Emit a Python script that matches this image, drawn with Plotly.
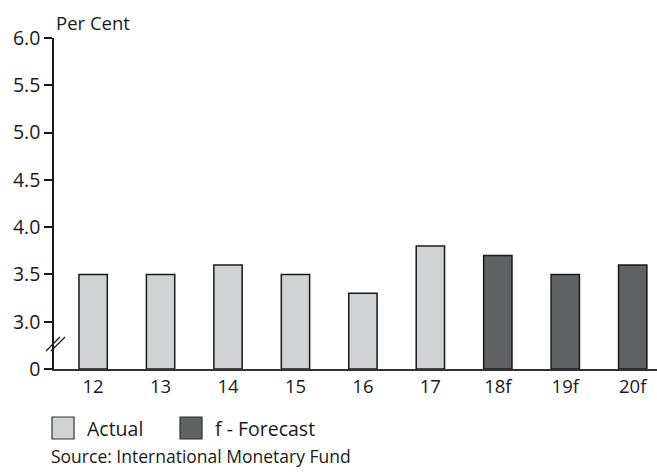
import plotly.graph_objects as go

# Annual growth, per cent
years_actual = ["12", "13", "14", "15", "16", "17"]
values_actual = [3.5, 3.5, 3.6, 3.5, 3.3, 3.8]
years_forecast = ["18f", "19f", "20f"]
values_forecast = [3.7, 3.5, 3.6]

all_years = years_actual + years_forecast
tick_vals = [2.5, 3.0, 3.5, 4.0, 4.5, 5.0, 5.5, 6.0]
tick_text = ["0", "3.0", "3.5", "4.0", "4.5", "5.0", "5.5", "6.0"]

LIGHT = "#d1d2d4"
DARK = "#606163"
EDGE = "#1a1a1a"
FONT = "Open Sans"
AXIS_FLOOR = 2.5  # broken axis: the "0" baseline sits just below 3.0

fig = go.Figure()
fig.add_trace(go.Bar(
    x=years_actual, y=[v - AXIS_FLOOR for v in values_actual], base=AXIS_FLOOR,
    name="Actual", width=0.42,
    marker=dict(color=LIGHT, line=dict(color=EDGE, width=1.5)),
    hovertext=[str(v) for v in values_actual], showlegend=False,
))
fig.add_trace(go.Bar(
    x=years_forecast, y=[v - AXIS_FLOOR for v in values_forecast], base=AXIS_FLOOR,
    name="f - Forecast", width=0.42,
    marker=dict(color=DARK, line=dict(color=EDGE, width=1.5)),
    hovertext=[str(v) for v in values_forecast], showlegend=False,
))

fig.update_layout(
    width=657, height=472,
    margin=dict(l=54, r=0, t=38, b=103),
    paper_bgcolor="white", plot_bgcolor="white",
    barmode="overlay",
    font=dict(family=FONT, color="#1a1a1a", size=18),
    xaxis=dict(
        type="category", categoryorder="array", categoryarray=all_years,
        range=[-0.58, 8.36],
        showline=True, linecolor="#333333", linewidth=1.5,
        ticks="", showgrid=False, zeroline=False,
        tickfont=dict(size=18.5),
    ),
    yaxis=dict(
        range=[AXIS_FLOOR, 6.0],
        tickvals=tick_vals, ticktext=tick_text,
        showline=True, linecolor="#1a1a1a", linewidth=1.5,
        ticks="outside", ticklen=8, tickwidth=1.5, tickcolor="#1a1a1a",
        showgrid=False, zeroline=False,
        tickfont=dict(size=19.5),
    ),
)

# axis-break marks
for dx in (0, 5):
    fig.add_shape(type="line", xref="paper", yref="paper",
                  x0=(46 + dx - 54) / 603, y0=(369 - 351) / 331,
                  x1=(60 + dx - 54) / 603, y1=(369 - 337) / 331,
                  line=dict(color="#1a1a1a", width=1.2))

# axis title
fig.add_annotation(text="Per Cent", xref="paper", yref="paper",
                   x=0.0, y=1.0, xanchor="left", yanchor="bottom",
                   yshift=1, showarrow=False, font=dict(size=18.5))

# legend
legend_items = [("Actual", LIGHT, 52), ("f - Forecast", DARK, 180)]
for label, color, px in legend_items:
    fig.add_shape(type="rect", xref="paper", yref="paper",
                  x0=(px - 54) / 603, x1=(px + 22 - 54) / 603,
                  y0=(369 - 439) / 331, y1=(369 - 417) / 331,
                  fillcolor=color, line=dict(color="#333333", width=1.2))
    fig.add_annotation(text=label, xref="paper", yref="paper",
                       x=(px + 33 - 54) / 603, y=(369 - 428) / 331,
                       xanchor="left", yanchor="middle", showarrow=False,
                       font=dict(size=19.5))

fig.add_annotation(text="Source: International Monetary Fund",
                   xref="paper", yref="paper",
                   x=(49 - 54) / 603, y=(369 - 456) / 331,
                   xanchor="left", yanchor="middle", showarrow=False,
                   font=dict(size=17.5))

fig.write_html("out.html")
